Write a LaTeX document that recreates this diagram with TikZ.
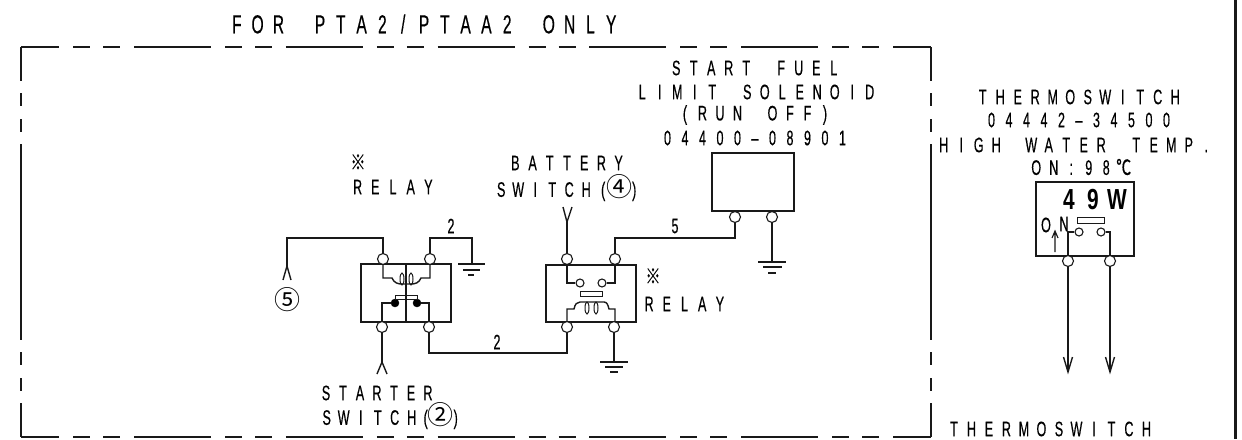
\documentclass[tikz,border=0pt]{standalone}
\usepackage{fontspec}
\newfontfamily\labf[FakeStretch=0.6,FakeBold=0.35]{Liberation Sans}
\newfontfamily\boldf[FakeStretch=0.72]{Liberation Sans}
\newfontfamily\cjkf[FakeStretch=0.72,FakeBold=0.3]{Noto Sans CJK JP}
\newfontfamily\symf{Noto Sans CJK JP}
\makeatletter
\newcommand\fixp[2]{\@tfor\fixc:=#2\do{\makebox[#1pt]{\fixc}}}
\makeatother
\newcommand\circd[1]{{\symf\fontsize{26}{26}\selectfont #1}}
\tikzset{
  wire/.style={line width=1.4pt,black!90},
  term/.style={circle,draw=black!90,line width=1.1pt,fill=white,minimum size=11pt,inner sep=0pt},
  cont/.style={circle,draw=black!90,line width=1.1pt,fill=white,minimum size=8pt,inner sep=0pt},
  dotc/.style={circle,draw=black,fill=black,minimum size=8pt,inner sep=0pt},
  bx/.style={draw=black!90,line width=1.3pt,inner sep=0pt,fill=none},
  lab/.style={inner sep=0pt,font=\labf\fontsize{21}{21}\selectfont},
  ttl/.style={inner sep=0pt,font=\labf\fontsize{26}{26}\selectfont},
  gnum/.style={inner sep=0pt,font=\labf\fontsize{21}{21}\selectfont},
  frameline/.style={line width=1.2pt,black!90},
  longdash/.style={frameline,dash pattern=on 77pt off 14pt on 17pt off 13pt on 17pt off 13.8pt,dash phase=38.8pt}
}
\begin{document}
\begin{tikzpicture}[x=1pt,y=-1pt]
\useasboundingbox (0,0) rectangle (1242,439);
% frame
\coordinate (fa) at (21,47); \coordinate (fb) at (931,47);
\coordinate (fc) at (931,437); \coordinate (fd) at (21,437);
\draw[longdash] (fa) -- (fb);
\draw[longdash] (fd) -- (fc);
\foreach \fx in {21,931}{
  \draw[frameline] (\fx,47) -- (\fx,81);
  \draw[frameline] (\fx,93) -- (\fx,106);
  \draw[frameline] (\fx,119) -- (\fx,132);
  \draw[frameline] (\fx,144) -- (\fx,340);
  \draw[frameline] (\fx,352) -- (\fx,365);
  \draw[frameline] (\fx,378) -- (\fx,391);
  \draw[frameline] (\fx,403) -- (\fx,437);
}
\draw[line width=3pt,black!90] (1235,0) -- (1235,439);
% title and labels
\node[ttl] (title) at (424,24) {\fixp{20.8}{FOR~PTA2/PTAA2~ONLY}};
\node[lab] (sf1) at (755,68) {\fixp{17.5}{START~FUEL}};
\node[lab] (sf2) at (756,92) {\fixp{17.5}{LIMIT~SOLENOID}};
\node[lab] (sf3) at (755,115) {\fixp{17.5}{(RUN~OFF)}};
\node[lab] (sf4) at (755,138) {\fixp{17.5}{04400–08901}};
\node[lab] (bt1) at (567,163) {\fixp{17.2}{BATTERY}};
\node[lab,anchor=west] (bt2) at (492.5,188) {\fixp{17}{SWITCH}\kern4pt\makebox[9pt]{(}\makebox[23pt]{\circd{④}}\makebox[7pt]{)}};
\node[lab] (ast1) at (358,162) {\cjkf ※};
\node[lab] (rl1) at (393,187) {\fixp{17.7}{RELAY}};
\node[lab] (ast2) at (653,276) {\cjkf ※};
\node[lab] (rl2) at (684.5,304) {\fixp{17.7}{RELAY}};
\node[lab] (st1) at (377,393) {\fixp{17}{STARTER}};
\node[lab,anchor=west] (st2) at (318,416) {\fixp{17}{SWITCH}\kern1pt\makebox[9pt]{(}\makebox[20pt]{\circd{②}}\makebox[11pt]{)}};
\node[inner sep=0pt] (five) at (287,300) {\circd{⑤}};
\node[lab] (th1) at (1079,97) {\fixp{17.5}{THERMOSWITCH}};
\node[lab] (th2) at (1079,120) {\fixp{17.5}{04442–34500}};
\node[lab] (th3) at (1075,145) {\fixp{17.5}{HIGH~WATER~TEMP.}};
\node[lab] (th4) at (1080,167) {\fixp{17.5}{ON:98{\cjkf ℃}}};
\node[lab,anchor=west] (th5) at (945,429) {\fixp{17.5}{THERMOSWITCH}};
\node[gnum] (n2a) at (451,226) {2};
\node[gnum] (n2b) at (497,342) {2};
\node[gnum] (n5) at (675,226) {5};
% relay 1
\node[bx,minimum width=90pt,minimum height=58pt] (r1) at (406,293) {};
\node[term] (r1a) at (383,259) {};
\node[term] (r1b) at (430,259) {};
\node[term] (r1c) at (382,327) {};
\node[term] (r1d) at (429,327) {};
\node[dotc] (d1) at (395,303) {};
\node[dotc] (d2) at (417,303) {};
\node[bx,line width=1pt,minimum width=22pt,minimum height=4pt] (br1) at (406,297) {};
\draw[wire] (r1.north) -- (r1.south);
\draw[wire] (r1a.south) -- (383,278) -- (392,278) .. controls (394,283) and (398,284) .. (402,284) -- (411,284) .. controls (415,284) and (419,283) .. (421,278) -- (430,278) -- (r1b.south);
\draw[wire,line width=1pt] (402,279) ellipse (2pt and 6pt) (411,279) ellipse (2pt and 6pt);
\draw[wire] (r1c.north) |- (d1.west);
\draw[wire] (r1d.north) |- (d2.east);
% relay 2
\node[bx,minimum width=90pt,minimum height=57pt] (r2) at (591,293.5) {};
\node[term] (r2a) at (567,259) {};
\node[term] (r2b) at (615,259) {};
\node[term] (r2c) at (567,327) {};
\node[term] (r2d) at (614,327) {};
\node[cont] (c1) at (580,283) {};
\node[cont] (c2) at (602,283) {};
\node[bx,line width=1pt,minimum width=22pt,minimum height=5pt] (br2) at (591,293.5) {};
\draw[wire] (r2a.south) |- (c1.west);
\draw[wire] (r2b.south) |- (c2.east);
\draw[wire] (r2c.north) -- (567,309) -- (574,309) .. controls (575,304) and (577,302) .. (580,302) -- (604,302) .. controls (607,302) and (608,305) .. (609,309) -- (615,309) -- (615,322);
\draw[wire,line width=1pt] (587,308) ellipse (2pt and 6pt) (596,308) ellipse (2pt and 6pt);
% solenoid
\node[bx,minimum width=82pt,minimum height=58pt] (sol) at (753,182) {};
\node[term] (s1) at (735,217) {};
\node[term] (s2) at (772,217) {};
% thermoswitch
\node[bx,minimum width=98pt,minimum height=74pt] (ts) at (1085,219) {};
\node[term] (t1) at (1068,261) {};
\node[term] (t2) at (1110,261) {};
\node[cont] (tc1) at (1079,232) {};
\node[cont] (tc2) at (1101,232) {};
\node[bx,line width=1pt,minimum width=27pt,minimum height=6pt] (tb) at (1090.5,220) {};
\node[inner sep=0pt,font=\boldf\bfseries\fontsize{29}{29}\selectfont] (w49) at (1093,200) {\fixp{24}{49W}};
\node[lab] (on1) at (1046,225) {O};
\node[lab] (on2) at (1064,224) {N};
\draw[wire] (t1.north) |- (tc1.west);
\draw[wire] (t2.north) |- (tc2.east);
\coordinate (ar1) at (1055,252); \coordinate (ar2) at (1055,231);
\draw[wire,line width=1.1pt] (ar1) -- (ar2) (1052,238) -- (ar2) -- (1058,238);
% external wires
\coordinate (g1) at (472,264);
\draw[wire] (r1b.north) |- (g1 |- 0,238) -- (g1);
\draw[wire] (458,264) -- (485,264) (463,270) -- (480,270) (468,275) -- (474,275);
\coordinate (f5) at (287,266);
\draw[wire] (r1a.north) |- (f5 |- 0,238) -- (f5);
\draw[wire] (283,280) -- (f5) -- (291,280);
\coordinate (fs) at (382,362);
\draw[wire] (r1c.south) -- (fs);
\draw[wire] (377,374) -- (fs) -- (387,374);
\coordinate (fb2) at (567,222);
\draw[wire] (r2a.north) -- (fb2);
\draw[wire] (563,207) -- (fb2) -- (572,207);
\draw[wire] (r1d.south) |- (0,353 -| r2c) -- (r2c.south);
\draw[wire] (r2b.north) |- (s1 |- 0,238) -- (s1.south);
\coordinate (g2) at (614,362);
\draw[wire] (r2d.south) -- (g2);
\draw[wire] (600,362) -- (628,362) (605,367) -- (623,367) (610,372) -- (618,372);
\coordinate (g3) at (772,262);
\draw[wire] (s2.south) -- (g3);
\draw[wire] (758,262) -- (786,262) (763,267) -- (782,267) (768,273) -- (776,273);
\coordinate (a1) at (1068,372); \coordinate (a2) at (1110,372);
\draw[wire] (t1.south) -- (a1);
\draw[wire] (t2.south) -- (a2);
\draw[wire] (1063.5,357) -- (a1) -- (1072.5,357);
\draw[wire] (1105.5,357) -- (a2) -- (1114.5,357);
\end{tikzpicture}
\end{document}
